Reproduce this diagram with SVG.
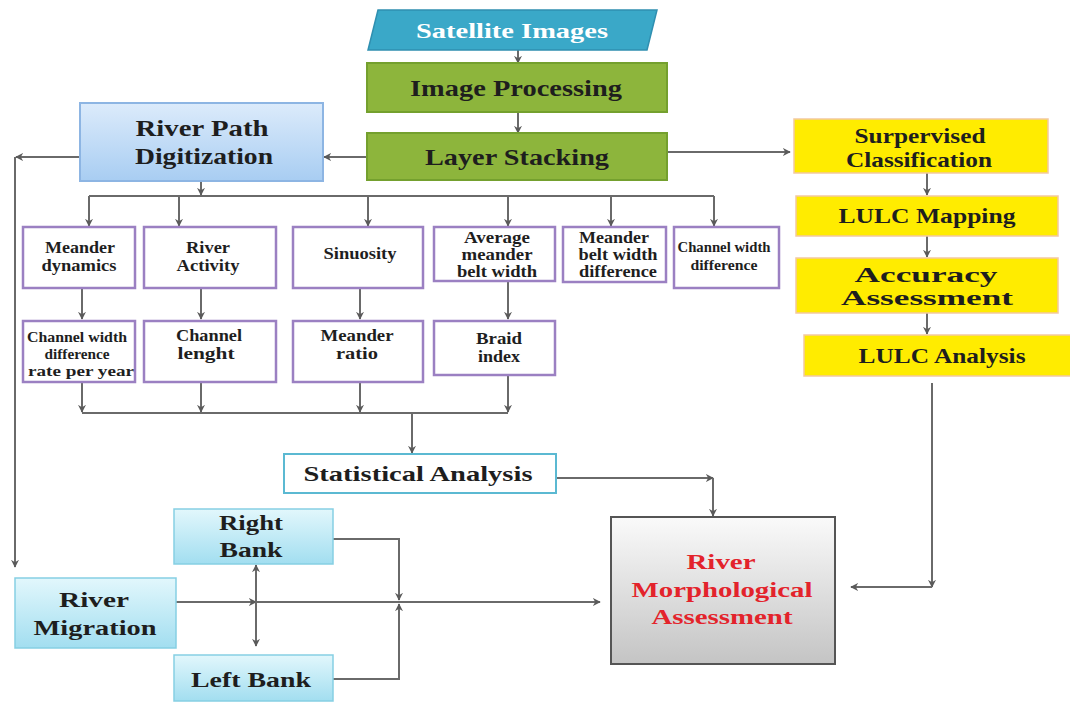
<svg xmlns="http://www.w3.org/2000/svg" width="1070" height="703" viewBox="0 0 1070 703">
<defs>
<marker id="ah" viewBox="0 0 10 10" refX="9" refY="5" markerWidth="8" markerHeight="8" markerUnits="userSpaceOnUse" orient="auto-start-reverse">
<path d="M0,0 L10,5 L0,10 L3,5 z" fill="#5a5a5a"/>
</marker>
<linearGradient id="gBlue" x1="0" y1="0" x2="0" y2="1">
<stop offset="0" stop-color="#dcebfb"/><stop offset="1" stop-color="#a8cdf2"/>
</linearGradient>
<linearGradient id="gCyan" x1="0" y1="0" x2="0" y2="1">
<stop offset="0" stop-color="#e2f7fc"/><stop offset="1" stop-color="#a2def0"/>
</linearGradient>
<linearGradient id="gGray" x1="0" y1="0" x2="0" y2="1">
<stop offset="0" stop-color="#fafafa"/><stop offset="1" stop-color="#c4c4c4"/>
</linearGradient>
<style>
.t{font-family:"Liberation Serif","Times New Roman",serif;font-weight:bold;fill:#1e1e1e;text-anchor:middle}
.big{font-size:23px}
.mid{font-size:21px}
.sm{font-size:16px}
.xs{font-size:14.5px}
.wh{fill:#ffffff}
.red{fill:#e3232b}
.green{fill:#8db53c;stroke:#74a02e;stroke-width:2}
.yel{fill:#ffec00;stroke:#f3c9a0;stroke-width:1.5}
.pur{fill:#ffffff;stroke:#9b80c2;stroke-width:2.5}
.cy{fill:url(#gCyan);stroke:#86cfe3;stroke-width:1.5}
.ln{fill:none;stroke:#6a6a6a;stroke-width:2}
.ar{marker-end:url(#ah)}
</style>
</defs>
<rect width="1070" height="703" fill="#ffffff"/>

<g id="connectors">
<line class="ln ar" x1="518" y1="50" x2="518" y2="63"/>
<line class="ln ar" x1="518" y1="112" x2="518" y2="133"/>
<line class="ln ar" x1="367" y1="157" x2="324" y2="157"/>
<line class="ln ar" x1="667" y1="152" x2="790" y2="152"/>
<line class="ln ar" x1="80" y1="157" x2="16" y2="157"/>
<line class="ln ar" x1="15" y1="157" x2="15" y2="567"/>
<line class="ln ar" x1="201" y1="181" x2="201" y2="195"/>
<path class="ln" d="M89,196 H714"/>
<line class="ln ar" x1="89" y1="196" x2="89" y2="226"/>
<line class="ln ar" x1="179" y1="196" x2="179" y2="226"/>
<line class="ln ar" x1="368" y1="196" x2="368" y2="226"/>
<line class="ln ar" x1="508" y1="196" x2="508" y2="226"/>
<line class="ln ar" x1="611" y1="196" x2="611" y2="226"/>
<line class="ln ar" x1="714" y1="196" x2="714" y2="226"/>
<line class="ln ar" x1="82" y1="288" x2="82" y2="319"/>
<line class="ln ar" x1="201" y1="288" x2="201" y2="319"/>
<line class="ln ar" x1="360" y1="288" x2="360" y2="319"/>
<line class="ln ar" x1="508" y1="281" x2="508" y2="319"/>
<line class="ln ar" x1="82" y1="382" x2="82" y2="412"/>
<line class="ln ar" x1="201" y1="382" x2="201" y2="412"/>
<line class="ln ar" x1="360" y1="382" x2="360" y2="412"/>
<line class="ln ar" x1="508" y1="375" x2="508" y2="412"/>
<path class="ln" d="M82,413 H508"/>
<line class="ln ar" x1="412" y1="413" x2="412" y2="453"/>
<line class="ln ar" x1="556" y1="478" x2="713" y2="478"/>
<line class="ln ar" x1="713" y1="478" x2="713" y2="516"/>
<line class="ln ar" x1="927" y1="173" x2="927" y2="195"/>
<line class="ln ar" x1="927" y1="236" x2="927" y2="257"/>
<line class="ln ar" x1="927" y1="313" x2="927" y2="334"/>
<line class="ln ar" x1="932" y1="383" x2="932" y2="587"/>
<line class="ln ar" x1="932" y1="587" x2="851" y2="587"/>
<line class="ln ar" x1="176" y1="602" x2="256" y2="602"/>
<line class="ln ar" x1="256" y1="602" x2="600" y2="602"/>
<line class="ln ar" x1="256" y1="602" x2="256" y2="565"/>
<line class="ln ar" x1="256" y1="602" x2="256" y2="646"/>
<path class="ln ar" d="M333,539 H399 V600"/>
<path class="ln ar" d="M333,679 H399 V604"/>
</g>

<g id="satellite-images">
<polygon points="378,10 657,10 647,50 368,50" fill="#3aa8c8" stroke="#2f8fb0" stroke-width="1.5"/>
<text class="t mid wh" x="512" y="38" textLength="192" lengthAdjust="spacingAndGlyphs">Satellite Images</text>
</g>
<g id="image-processing">
<rect class="green" x="367" y="63" width="300" height="49"/>
<text class="t big" x="516" y="96" textLength="212" lengthAdjust="spacingAndGlyphs">Image Processing</text>
</g>
<g id="layer-stacking">
<rect class="green" x="367" y="133" width="300" height="47"/>
<text class="t big" x="517" y="165" textLength="184" lengthAdjust="spacingAndGlyphs">Layer Stacking</text>
</g>
<g id="river-path-digitization">
<rect x="80" y="103" width="243" height="78" fill="url(#gBlue)" stroke="#8db5e3" stroke-width="2"/>
<text class="t big" x="202" y="136" textLength="133" lengthAdjust="spacingAndGlyphs">River Path</text>
<text class="t big" x="204" y="164" textLength="138" lengthAdjust="spacingAndGlyphs">Digitization</text>
</g>

<g id="surpervised-classification">
<rect class="yel" x="794" y="119" width="254" height="54"/>
<text class="t mid" x="920" y="143" textLength="131" lengthAdjust="spacingAndGlyphs">Surpervised</text>
<text class="t mid" x="919" y="167" textLength="146" lengthAdjust="spacingAndGlyphs">Classification</text>
</g>
<g id="lulc-mapping">
<rect class="yel" x="796" y="196" width="262" height="40"/>
<text class="t mid" x="927" y="223" textLength="177" lengthAdjust="spacingAndGlyphs">LULC Mapping</text>
</g>
<g id="accuracy-assessment">
<rect class="yel" x="796" y="258" width="262" height="55"/>
<text class="t mid" x="926" y="282" textLength="143" lengthAdjust="spacingAndGlyphs">Accuracy</text>
<text class="t mid" x="927" y="305" textLength="172" lengthAdjust="spacingAndGlyphs">Assessment</text>
</g>
<g id="lulc-analysis">
<rect class="yel" x="804" y="335" width="270" height="41"/>
<text class="t mid" x="942" y="363" textLength="167" lengthAdjust="spacingAndGlyphs">LULC Analysis</text>
</g>

<g id="meander-dynamics">
<rect class="pur" x="23" y="227" width="112" height="61"/>
<text class="t sm" x="80" y="253" textLength="70" lengthAdjust="spacingAndGlyphs">Meander</text>
<text class="t sm" x="79" y="271" textLength="75" lengthAdjust="spacingAndGlyphs">dynamics</text>
</g>
<g id="river-activity">
<rect class="pur" x="144" y="227" width="132" height="61"/>
<text class="t sm" x="208" y="253" textLength="44" lengthAdjust="spacingAndGlyphs">River</text>
<text class="t sm" x="208" y="271" textLength="63" lengthAdjust="spacingAndGlyphs">Activity</text>
</g>
<g id="sinuosity">
<rect class="pur" x="293" y="227" width="130" height="61"/>
<text class="t sm" x="360" y="259" textLength="73" lengthAdjust="spacingAndGlyphs">Sinuosity</text>
</g>
<g id="average-meander-belt-width">
<rect class="pur" x="434" y="227" width="121" height="54"/>
<text class="t sm" x="497" y="243" textLength="66" lengthAdjust="spacingAndGlyphs">Average</text>
<text class="t sm" x="497" y="260" textLength="71" lengthAdjust="spacingAndGlyphs">meander</text>
<text class="t sm" x="497" y="277" textLength="80" lengthAdjust="spacingAndGlyphs">belt width</text>
</g>
<g id="meander-belt-width-difference">
<rect class="pur" x="563" y="227" width="103" height="55"/>
<text class="t sm" x="614" y="243" textLength="70" lengthAdjust="spacingAndGlyphs">Meander</text>
<text class="t sm" x="618" y="260" textLength="79" lengthAdjust="spacingAndGlyphs">belt width</text>
<text class="t sm" x="618" y="277" textLength="78" lengthAdjust="spacingAndGlyphs">difference</text>
</g>
<g id="channel-width-difference">
<rect class="pur" x="674" y="227" width="105" height="61"/>
<text class="t xs" x="724" y="252" textLength="93" lengthAdjust="spacingAndGlyphs">Channel width</text>
<text class="t xs" x="724" y="270" textLength="67" lengthAdjust="spacingAndGlyphs">difference</text>
</g>
<g id="channel-width-difference-rate">
<rect class="pur" x="23" y="321" width="112" height="61"/>
<text class="t xs" x="77" y="342" textLength="100" lengthAdjust="spacingAndGlyphs">Channel width</text>
<text class="t xs" x="77" y="359" textLength="65" lengthAdjust="spacingAndGlyphs">difference</text>
<text class="t xs" x="81" y="376" textLength="106" lengthAdjust="spacingAndGlyphs">rate per year</text>
</g>
<g id="channel-lenght">
<rect class="pur" x="144" y="321" width="132" height="61"/>
<text class="t sm" x="209" y="341" textLength="66" lengthAdjust="spacingAndGlyphs">Channel</text>
<text class="t sm" x="206" y="359" textLength="57" lengthAdjust="spacingAndGlyphs">lenght</text>
</g>
<g id="meander-ratio">
<rect class="pur" x="293" y="321" width="130" height="61"/>
<text class="t sm" x="357" y="341" textLength="73" lengthAdjust="spacingAndGlyphs">Meander</text>
<text class="t sm" x="357" y="359" textLength="42" lengthAdjust="spacingAndGlyphs">ratio</text>
</g>
<g id="braid-index">
<rect class="pur" x="434" y="321" width="121" height="54"/>
<text class="t sm" x="499" y="344" textLength="46" lengthAdjust="spacingAndGlyphs">Braid</text>
<text class="t sm" x="499" y="362" textLength="42" lengthAdjust="spacingAndGlyphs">index</text>
</g>

<g id="statistical-analysis">
<rect x="284" y="454" width="272" height="39" fill="#ffffff" stroke="#5bb9d2" stroke-width="2"/>
<text class="t mid" x="418" y="481" textLength="229" lengthAdjust="spacingAndGlyphs">Statistical Analysis</text>
</g>
<g id="right-bank">
<rect class="cy" x="174" y="509" width="159" height="55"/>
<text class="t mid" x="251" y="530" textLength="64" lengthAdjust="spacingAndGlyphs">Right</text>
<text class="t mid" x="251" y="557" textLength="63" lengthAdjust="spacingAndGlyphs">Bank</text>
</g>
<g id="river-migration">
<rect class="cy" x="15" y="578" width="161" height="70"/>
<text class="t mid" x="94" y="607" textLength="70" lengthAdjust="spacingAndGlyphs">River</text>
<text class="t mid" x="95" y="635" textLength="123" lengthAdjust="spacingAndGlyphs">Migration</text>
</g>
<g id="left-bank">
<rect class="cy" x="174" y="655" width="159" height="46"/>
<text class="t mid" x="251" y="687" textLength="120" lengthAdjust="spacingAndGlyphs">Left Bank</text>
</g>
<g id="river-morphological-assessment">
<rect x="611" y="517" width="224" height="147" fill="url(#gGray)" stroke="#555555" stroke-width="2"/>
<text class="t mid red" x="721" y="569" textLength="69" lengthAdjust="spacingAndGlyphs">River</text>
<text class="t mid red" x="722" y="597" textLength="181" lengthAdjust="spacingAndGlyphs">Morphological</text>
<text class="t mid red" x="722" y="624" textLength="141" lengthAdjust="spacingAndGlyphs">Assessment</text>
</g>
</svg>
